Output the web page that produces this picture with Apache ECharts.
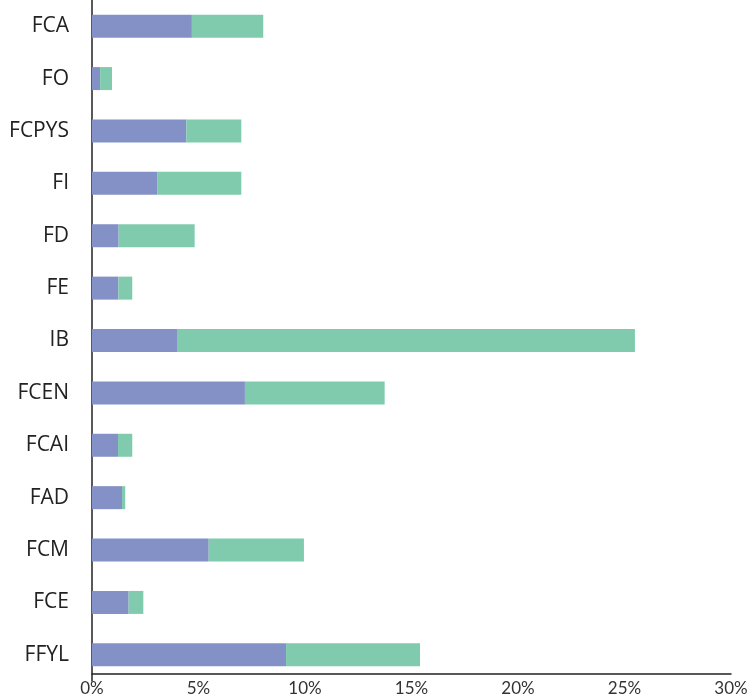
<!DOCTYPE html>
<html>
<head>
<meta charset="utf-8">
<script src="https://cdn.jsdelivr.net/npm/echarts@6/dist/echarts.min.js"></script>
<style>
  html, body { margin: 0; padding: 0; background: #fff; }
  #chart { width: 751px; height: 698px; }
</style>
</head>
<body>
<div id="chart"></div>
<script>
var categories = ['FCA', 'FO', 'FCPYS', 'FI', 'FD', 'FE', 'IB', 'FCEN', 'FCAI', 'FAD', 'FCM', 'FCE', 'FFYL'];
var partA = [4.69, 0.38, 4.43, 3.08, 1.25, 1.24, 3.99, 7.18, 1.22, 1.41, 5.48, 1.72, 9.11];
var partB = [3.35, 0.56, 2.58, 3.93, 3.57, 0.65, 21.5, 6.56, 0.67, 0.15, 4.47, 0.69, 6.29];
var xTicks = [0, 5, 10, 15, 20, 25, 30];

var chart = echarts.init(document.getElementById('chart'));
chart.setOption({
  animation: false,
  grid: { left: 92, right: 20, top: 0, bottom: 17, containLabel: false },
  xAxis: {
    type: 'value',
    min: xTicks[0],
    max: xTicks[xTicks.length - 1],
    interval: 5,
    offset: -7,
    splitLine: { show: false },
    axisTick: { show: false },
    axisLine: { show: true, lineStyle: { color: '#222', width: 1.5 } },
    axisLabel: {
      color: '#333',
      fontFamily: 'Lato, "Open Sans", sans-serif',
      fontSize: 17,
      margin: 6,
      formatter: '{value}%'
    }
  },
  yAxis: {
    type: 'category',
    inverse: true,
    data: categories,
    axisTick: { show: false },
    axisLine: { show: true, lineStyle: { color: '#222', width: 1.5 } },
    axisLabel: {
      color: '#222',
      fontFamily: '"Open Sans", Lato, sans-serif',
      fontSize: 21,
      margin: 23
    }
  },
  series: [
    {
      type: 'bar',
      stack: 'total',
      data: partA,
      barWidth: 23,
      itemStyle: { color: '#8491c7' }
    },
    {
      type: 'bar',
      stack: 'total',
      data: partB,
      barWidth: 23,
      itemStyle: { color: '#80cbae' }
    }
  ]
});
</script>
</body>
</html>
